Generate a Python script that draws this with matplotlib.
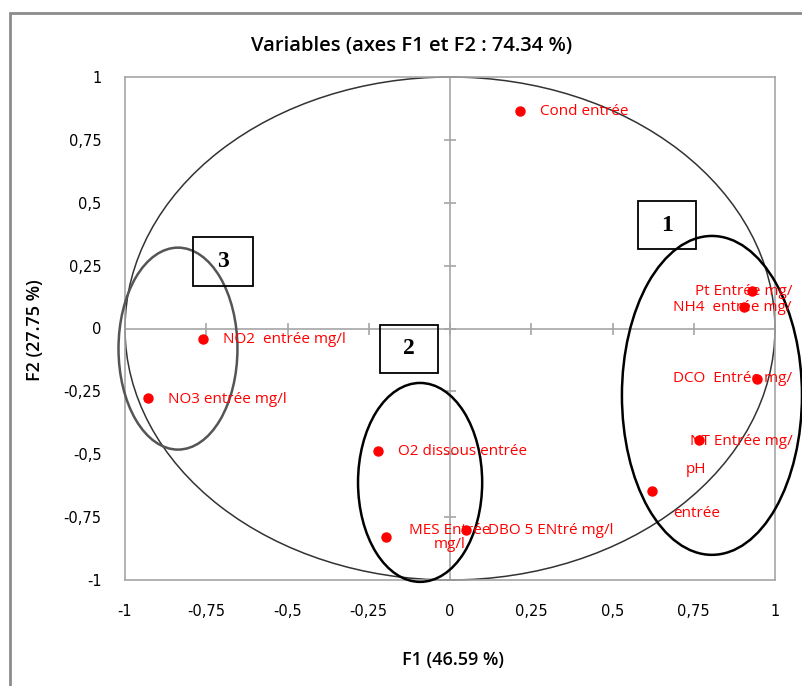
import matplotlib
matplotlib.use('Agg')
import matplotlib.pyplot as plt
from matplotlib.patches import Ellipse, Rectangle

# variables (loadings on F1 / F2)
labels = ["Cond entrée", "Pt Entrée mg/", "NH4  entrée mg/", "DCO  Entrée mg/",
          "NT Entrée mg/", "pH\n\n\nentrée", "O2 dissous entrée", "MES Entrée\nmg/l",
          "DBO 5 ENtré mg/l", "NO2  entrée mg/l", "NO3 entrée mg/l"]
f1 = [0.215, 0.929, 0.905, 0.945, 0.766, 0.622, -0.222, -0.197, 0.049, -0.760, -0.929]
f2 = [0.863, 0.151, 0.087, -0.199, -0.445, -0.648, -0.489, -0.831, -0.803, -0.040, -0.278]

ticks = [-1, -0.75, -0.5, -0.25, 0, 0.25, 0.5, 0.75, 1]
tick_labels = ["-1", "-0,75", "-0,5", "-0,25", "0", "0,25", "0,5", "0,75", "1"]

# groups: (label, center x, center y, width, height, colour)
groups = [("1", 0.806, -0.266, 0.554, 1.268, "black"),
          ("2", -0.092, -0.612, 0.382, 0.791, "black"),
          ("3", -0.837, -0.080, 0.366, 0.803, "#555555")]
# number boxes in data coords (x0, y0, w, h)
boxes = [(0.578, 0.315, 0.178, 0.19),
         (-0.215, -0.175, 0.178, 0.19),
         (-0.790, 0.167, 0.185, 0.195)]

# label offsets in pixels
offsets = [(20, 0), (-57, -1), (-71, -1), (-84, 0), (-9, -1), (44, 0),
           (20, 0), (64, 0), (22, 0), (20, -1), (20, -1)]
aligns = ["left", "left", "left", "left", "left", "center",
          "left", "center", "left", "left", "left"]

W, H = 802, 686
fig = plt.figure(figsize=(W / 100, H / 100), dpi=100, facecolor='white')
ax = fig.add_axes([125 / W, 1 - 580 / H, 650 / W, 503 / H])

grey = "#a6a6a6"
for s in ax.spines.values():
    s.set_color(grey)
    s.set_linewidth(1.2)
ax.set_xlim(-1, 1)
ax.set_ylim(-1, 1)
ax.set_xticks(ticks)
ax.set_xticklabels(tick_labels)
ax.set_yticks(ticks)
ax.set_yticklabels(tick_labels)
ax.tick_params(length=0, labelsize=10.5, pad=17)

ax.axhline(0, color=grey, lw=1.2, zorder=1)
ax.axvline(0, color=grey, lw=1.2, zorder=1)
ax.plot(ticks, [0] * len(ticks), ls="none", marker="|", ms=9, mew=1.2, color=grey, zorder=1)
ax.plot([0] * len(ticks), ticks, ls="none", marker="_", ms=9, mew=1.2, color=grey, zorder=1)

# correlation circle
ax.add_patch(Ellipse((0, 0), 2, 2, fill=False, ec="#333333", lw=1.1, clip_on=False))

for name, cx, cy, w, h, col in groups:
    ax.add_patch(Ellipse((cx, cy), w, h, fill=False, ec=col, lw=1.8, clip_on=False, zorder=4))
for (x0, y0, w, h), (name, *_ ) in zip(boxes, groups):
    ax.add_patch(Rectangle((x0, y0), w, h, fill=False, ec="black", lw=1.3, zorder=4))
    ax.text(x0 + w / 2, y0 + h / 2, name, ha="center", va="center", fontsize=17,
            fontweight="bold", family="Liberation Serif", zorder=5)

ax.plot(f1, f2, ls="none", marker="o", ms=6.5, color="#ff0000", zorder=5)
for lab, x, y, off, al in zip(labels, f1, f2, offsets, aligns):
    ax.annotate(lab, (x, y), xytext=off, textcoords="offset pixels", ha=al, va="center",
                color="#ff0000", fontsize=11, family="Open Sans", annotation_clip=False,
                multialignment="center", linespacing=0.95, zorder=6)

fig.text(412 / W, 1 - 46 / H, "Variables (axes F1 et F2 : 74.34 %)", ha="center", va="center",
         fontsize=14.5, fontweight="semibold", family="Open Sans")
fig.text(453 / W, 1 - 660 / H, "F1 (46.59 %)", ha="center", va="center",
         fontsize=13, fontweight="semibold", family="Open Sans")
fig.text(35 / W, 1 - 330 / H, "F2 (27.75 %)", ha="center", va="center", rotation=90,
         fontsize=13, fontweight="semibold", family="Open Sans")

# outer chart frame
fig.add_artist(Rectangle((10 / W, -0.05), 1.0, 1 - 13 / H + 0.05, transform=fig.transFigure,
                         fill=False, ec="#8c8c8c", lw=2))

fig.savefig("out.png", dpi=100, facecolor='white')
